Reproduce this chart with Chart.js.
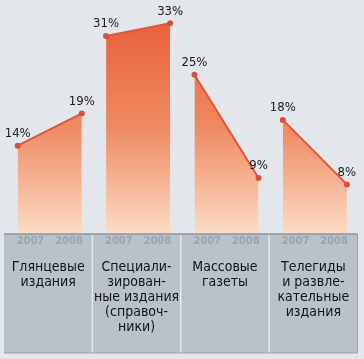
<!DOCTYPE html>
<html>
<head>
<meta charset="utf-8">
<script src="https://cdn.jsdelivr.net/npm/chart.js@4"></script>
<style>
html,body{margin:0;padding:0;background:#e3e7eb;}
#wrap{width:364px;height:359px;position:relative;}
</style>
</head>
<body>
<div id="wrap"><canvas id="c" width="364" height="359"></canvas></div>
<script>
const categories = [
  ["Глянцевые", "издания"],
  ["Специали-", "зирован-", "ные издания", "(справоч-", "ники)"],
  ["Массовые", "газеты"],
  ["Телегиды", "и развле-", "кательные", "издания"]
];
const years = ["2007", "2008"];
const values2007 = [14, 31, 25, 18];
const values2008 = [19, 33, 9, 8];

const OFF_A = 0.155, OFF_B = 0.88;
const TABLE_TOP = 234, TABLE_BOTTOM = 353;

function fillGradient(context) {
  const chart = context.chart;
  const area = chart.chartArea;
  if (!area) return '#f0906a';
  const g = chart.ctx.createLinearGradient(0, 20, 0, TABLE_TOP);
  g.addColorStop(0, '#e7603a');
  g.addColorStop(0.5, '#ef8a60');
  g.addColorStop(1, '#fcdcc6');
  return g;
}

const datasets = categories.map((cat, i) => ({
  data: [
    { x: i + OFF_A, y: values2007[i] },
    { x: i + OFF_B, y: values2008[i] }
  ],
  borderColor: '#e0553a',
  borderWidth: 2,
  pointRadius: 3,
  pointBackgroundColor: '#d9503a',
  pointBorderWidth: 0,
  fill: 'origin',
  backgroundColor: fillGradient,
  tension: 0
}));

const decor = {
  id: 'decor',
  afterDatasetsDraw(chart) {
    const c = chart.ctx;
    const xs = chart.scales.x, ys = chart.scales.y;
    c.save();
    // value labels
    c.fillStyle = '#1a1a1a';
    c.font = '13px "Liberation Sans Narrow", "DejaVu Sans Condensed", sans-serif';
    c.textAlign = 'center';
    c.textBaseline = 'middle';
    chart.data.datasets.forEach((ds) => {
      ds.data.forEach((p) => {
        const px = xs.getPixelForValue(p.x);
        const py = ys.getPixelForValue(p.y);
        c.fillText(p.y + '%', px, py - 12);
      });
    });
    // table
    const left = xs.getPixelForValue(0), right = xs.getPixelForValue(4);
    c.fillStyle = '#b9c1ca';
    c.fillRect(left, TABLE_TOP, right - left, TABLE_BOTTOM - TABLE_TOP);
    // separators
    c.strokeStyle = '#e6eaee';
    c.lineWidth = 1.5;
    for (let i = 1; i < 4; i++) {
      const x = xs.getPixelForValue(i);
      c.beginPath(); c.moveTo(x, TABLE_TOP + 1); c.lineTo(x, TABLE_BOTTOM); c.stroke();
    }
    // borders
    c.strokeStyle = '#8d959d';
    c.lineWidth = 1.5;
    c.beginPath(); c.moveTo(left, TABLE_TOP); c.lineTo(right, TABLE_TOP); c.stroke();
    c.strokeStyle = '#9aa2aa';
    c.lineWidth = 1;
    c.beginPath(); c.moveTo(right, TABLE_TOP); c.lineTo(right, TABLE_BOTTOM); c.lineTo(left, TABLE_BOTTOM); c.stroke();
    // years
    c.fillStyle = '#9ca4ae';
    c.font = 'bold 11px "Liberation Sans Narrow", "DejaVu Sans Condensed", sans-serif';
    c.textBaseline = 'middle';
    for (let i = 0; i < 4; i++) {
      const xa = xs.getPixelForValue(i + OFF_A), xb = xs.getPixelForValue(i + OFF_B);
      c.textAlign = 'left';
      c.fillText(years[0], xa - 1, 241);
      c.textAlign = 'right';
      c.fillText(years[1], xb + 1, 241);
    }
    // categories
    c.fillStyle = '#141414';
    c.font = '14px "Liberation Sans Narrow", "DejaVu Sans Condensed", sans-serif';
    c.textAlign = 'center';
    categories.forEach((lines, i) => {
      const cx = xs.getPixelForValue(i + 0.5);
      lines.forEach((t, k) => c.fillText(t, cx, 267 + k * 15));
    });
    c.restore();
  }
};

new Chart(document.getElementById('c'), {
  type: 'line',
  data: { datasets },
  options: {
    responsive: false,
    animation: false,
    events: [],
    layout: { padding: { left: 2.5, right: 6.5, top: 10.25, bottom: 123 } },
    plugins: { legend: { display: false }, tooltip: { enabled: false } },
    scales: {
      x: { type: 'linear', min: 0, max: 4, display: false },
      y: { type: 'linear', min: 0, max: 35, display: false }
    }
  },
  plugins: [decor]
});
</script>
</body>
</html>
